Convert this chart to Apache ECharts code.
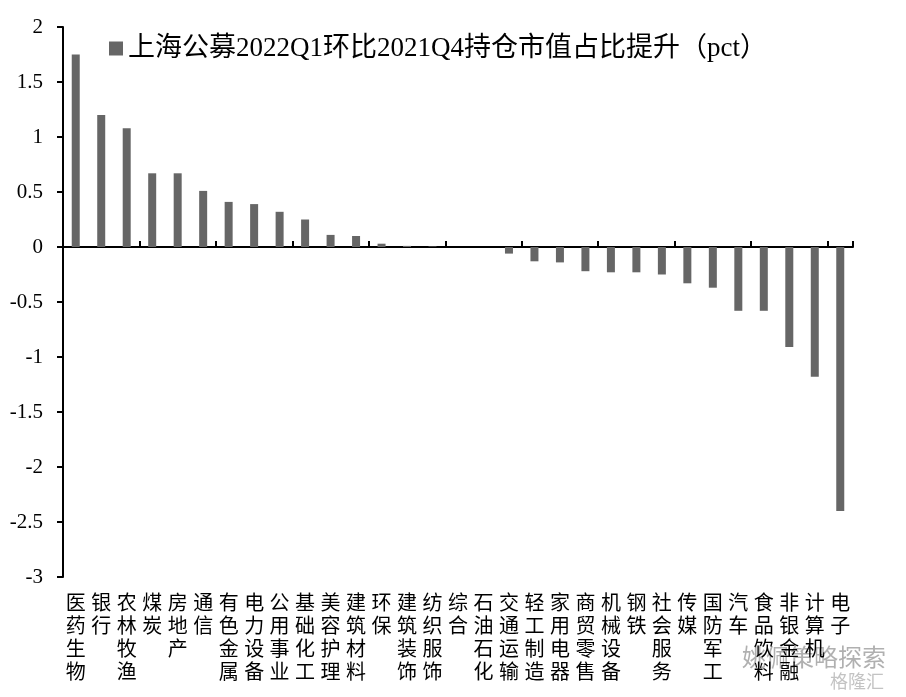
<!DOCTYPE html>
<html>
<head>
<meta charset="utf-8">
<script src="https://cdn.jsdelivr.net/npm/echarts@6/dist/echarts.min.js"></script>
<style>
html,body{margin:0;padding:0;background:#fff;}
#c{width:906px;height:697px;}
</style>
</head>
<body>
<div id="c"></div>
<script>
const categories = ['医药生物','银行','农林牧渔','煤炭','房地产','通信','有色金属','电力设备','公用事业','基础化工','美容护理','建筑材料','环保','建筑装饰','纺织服饰','综合','石油石化','交通运输','轻工制造','家用电器','商贸零售','机械设备','钢铁','社会服务','传媒','国防军工','汽车','食品饮料','非银金融','计算机','电子'];
const values = [1.75,1.20,1.08,0.67,0.67,0.51,0.41,0.39,0.32,0.25,0.11,0.10,0.03,0.01,0.005,0,0,-0.06,-0.13,-0.14,-0.22,-0.23,-0.23,-0.25,-0.33,-0.37,-0.58,-0.58,-0.91,-1.18,-2.40];
const seriesName = '上海公募2022Q1环比2021Q4持仓市值占比提升（pct）';
const yMin = -3, yMax = 2, yStep = 0.5;

const serif = '"Liberation Serif","Times New Roman","Noto Sans CJK SC",serif';
const chart = echarts.init(document.getElementById('c'), null, {renderer:'canvas'});
chart.setOption({
  animation:false,
  backgroundColor:'#fff',
  legend:{
    show:true,
    left:104, top:30,
    itemWidth:14, itemHeight:14,
    itemGap:6,
    icon:'rect',
    data:[seriesName],
    textStyle:{fontFamily:serif, fontSize:27, color:'#000'}
  },
  grid:{left:63, right:53, top:27, bottom:120, containLabel:false},
  xAxis:[{
    type:'category',
    data:categories,
    axisLine:{onZero:true, lineStyle:{color:'#000', width:2}},
    axisTick:{show:true, inside:true, length:6, lineStyle:{color:'#000', width:2}},
    axisLabel:{show:false},
    splitLine:{show:false}
  },{
    type:'category',
    data:categories,
    position:'bottom',
    axisLine:{show:false, onZero:false},
    axisTick:{show:false},
    axisLabel:{
      show:true, interval:0, margin:16,
      fontFamily:serif, fontSize:20, lineHeight:23, color:'#000',
      verticalAlign:'top',
      formatter:function(v){return v.split('').join('\n');}
    }
  }],
  yAxis:{
    type:'value',
    min:yMin, max:yMax, interval:yStep,
    axisLine:{show:true, lineStyle:{color:'#000', width:2}},
    axisTick:{show:true, length:6, lineStyle:{color:'#000', width:2}},
    axisLabel:{margin:20, fontFamily:serif, fontSize:21, color:'#000', formatter:function(v){return String(v);}},
    splitLine:{show:false}
  },
  series:[{
    name:seriesName,
    type:'bar',
    xAxisIndex:0,
    data:values,
    barWidth:8,
    itemStyle:{color:'#666666'}
  }],
  graphic:[
    {type:'text', left:742, top:645, style:{text:'姚佩策略探索', fontSize:24, fontFamily:'"Noto Sans CJK SC",sans-serif', fill:'rgba(150,150,150,0.75)'}},
    {type:'text', left:830, top:672, style:{text:'格隆汇', fontSize:18, fontFamily:'"Noto Sans CJK SC",sans-serif', fill:'rgba(170,170,170,0.7)'}}
  ]
});
</script>
</body>
</html>
